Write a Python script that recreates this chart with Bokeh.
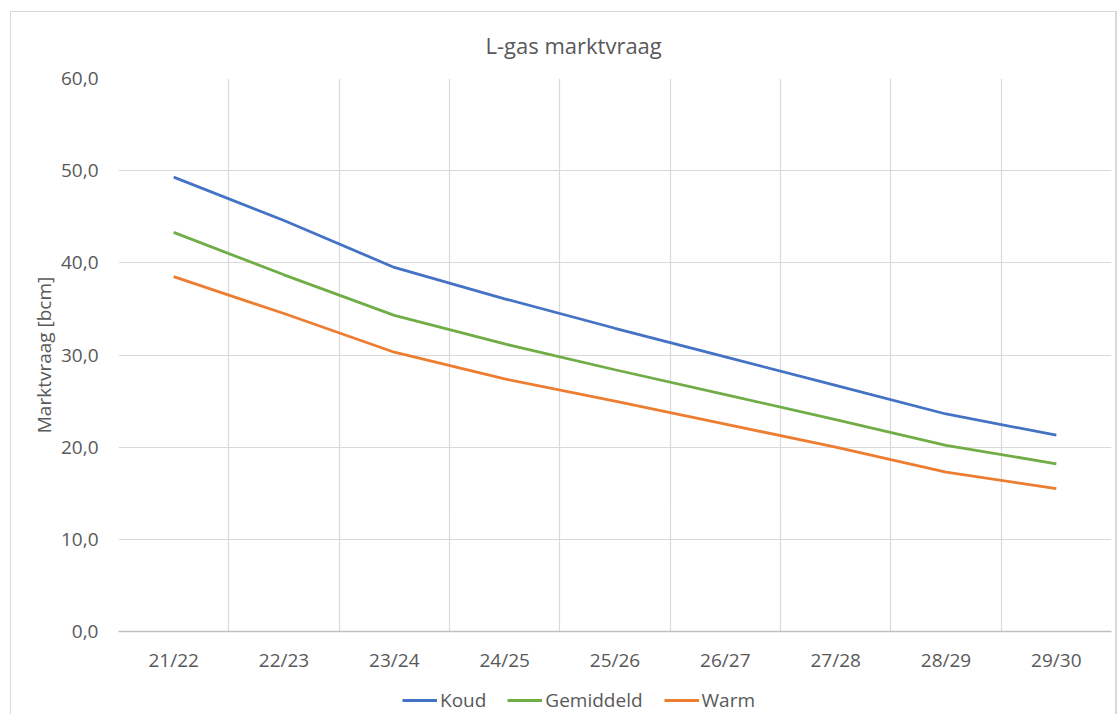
from bokeh.plotting import figure
from bokeh.layouts import column
from bokeh.models import (Range1d, FixedTicker, CustomJSTickFormatter, Legend, LegendItem, Title)
from bokeh.embed import file_html
from bokeh.resources import INLINE

categories = ["21/22", "22/23", "23/24", "24/25", "25/26", "26/27", "27/28", "28/29", "29/30"]
koud = [49.3, 44.6, 39.5, 36.1, 32.9, 29.8, 26.7, 23.6, 21.3]
gemiddeld = [43.3, 38.7, 34.3, 31.2, 28.4, 25.7, 23.0, 20.2, 18.2]
warm = [38.5, 34.5, 30.3, 27.4, 25.0, 22.5, 20.0, 17.3, 15.5]
series_names = ["Koud", "Gemiddeld", "Warm"]
series_colors = ["#4472C4", "#70AD47", "#ED7D31"]
y_ticks = [0, 10, 20, 30, 40, 50, 60]

FONT = "Open Sans"
TXT = "#595959"
W = 1117

xs = [i + 0.5 for i in range(len(categories))]

p = figure(width=W, height=686, output_backend="svg", toolbar_location=None,
           x_range=Range1d(0, len(categories)), y_range=Range1d(0, 60),
           min_border_left=118, min_border_right=6, min_border_top=78, min_border_bottom=55)

p.title = Title(text="L-gas marktvraag", align="left", offset=367, standoff=38,
                text_font=FONT, text_font_size="22px", text_color=TXT, text_font_style="normal")

p.outline_line_color = None
p.background_fill_color = "white"
p.border_fill_alpha = 0

for ys, c in zip([koud, gemiddeld, warm], series_colors):
    p.line(xs, ys, line_color=c, line_width=2.8)

# x axis
xa = p.xaxis[0]
xa.ticker = FixedTicker(ticks=xs)
xa.major_label_overrides = {x: c for x, c in zip(xs, categories)}
xa.major_tick_line_color = None
xa.minor_tick_line_color = None
xa.axis_line_color = "#BFBFBF"
xa.axis_line_width = 1.5
xa.major_label_text_font = FONT
xa.major_label_text_font_size = "19px"
xa.major_label_text_color = TXT
xa.major_label_standoff = 9

# y axis
ya = p.yaxis[0]
ya.ticker = FixedTicker(ticks=y_ticks)
ya.formatter = CustomJSTickFormatter(code="return tick.toFixed(1).replace('.', ',');")
ya.major_tick_line_color = None
ya.minor_tick_line_color = None
ya.axis_line_color = None
ya.major_label_text_font = FONT
ya.major_label_text_font_size = "19px"
ya.major_label_text_color = TXT
ya.major_label_standoff = 14
ya.axis_label = "Marktvraag [bcm]"
ya.axis_label_text_font = FONT
ya.axis_label_text_font_size = "19px"
ya.axis_label_text_font_style = "normal"
ya.axis_label_text_color = TXT
ya.axis_label_standoff = 1

# grids
p.xgrid.ticker = FixedTicker(ticks=list(range(len(categories) + 1)))
p.xgrid.grid_line_color = "#D9D9D9"
p.xgrid.grid_line_width = 1.2
p.ygrid.ticker = FixedTicker(ticks=y_ticks)
p.ygrid.grid_line_color = "#D9D9D9"
p.ygrid.grid_line_width = 1.2

# legend strip below the chart (same series, drawn off-range so only the legend shows)
pl = figure(width=W, height=28, output_backend="svg", toolbar_location=None,
            x_range=Range1d(0, len(categories)), y_range=Range1d(-2, -1),
            x_axis_location=None, y_axis_location=None,
            min_border_left=0, min_border_right=0, min_border_top=0, min_border_bottom=0)
pl.outline_line_color = None
pl.xgrid.visible = False
pl.ygrid.visible = False
pl.background_fill_alpha = 0
pl.border_fill_alpha = 0
items = []
for ys, c, n in zip([koud, gemiddeld, warm], series_colors, series_names):
    r = pl.line(xs, ys, line_color=c, line_width=2.8)
    items.append(LegendItem(label=n, renderers=[r]))

legend = Legend(items=items, orientation="horizontal", location=(284, 1),
                glyph_width=35, glyph_height=26, label_standoff=3, spacing=21,
                padding=0, margin=0, border_line_color=None, background_fill_alpha=0,
                label_text_font=FONT, label_text_font_size="19px", label_text_color=TXT)
pl.add_layout(legend, "center")

layout = column(p, pl, spacing=0,
                styles={"box-shadow": "inset 10px 11px 0 0 white, inset 11px 12px 0 0 #D9D9D9, "
                                      "inset -2px 0 0 0 #D9D9D9"})

open("out.html", "w").write(file_html(layout, INLINE))
